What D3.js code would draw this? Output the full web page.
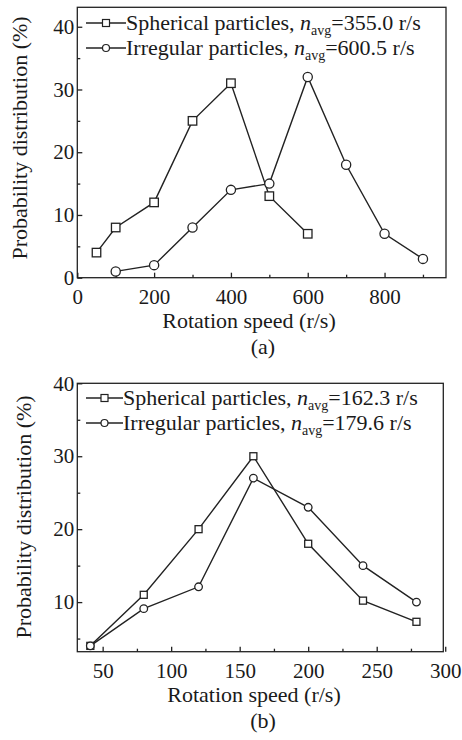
<!DOCTYPE html>
<html lang="en">
<head>
<meta charset="UTF-8">
<title>Rotation speed distribution</title>
<script src="https://d3js.org/d3.v7.min.js"></script>
<style>
    body { margin: 0; background: #fff; }
    svg text { font-family: 'Liberation Serif', 'Times New Roman', serif; fill: #1a1a1a; }
</style>
</head>
<body>
<svg id="chart" width="462" height="740"></svg>
<script>
// panel (a)
let speedA_sph = [50, 100, 200, 300, 400, 500, 600];
let probA_sph = [4, 8, 12, 25, 31, 13, 7];
let speedA_irr = [100, 200, 300, 400, 500, 600, 700, 800, 900];
let probA_irr = [1, 2, 8, 14, 15, 32, 18, 7, 3];
let xTicksA = [0, 200, 400, 600, 800];
let yTicksA = [0, 10, 20, 30, 40];
let legendA = ["Spherical particles, ", "Irregular particles, "];
let avgA = ["=355.0 r/s", "=600.5 r/s"];

// panel (b)
let speedB = [41, 80, 120, 160, 200, 240, 279];
let probB_sph = [4, 11, 20, 30, 18, 10.2, 7.3];
let probB_irr = [4, 9.1, 12.1, 27, 23, 15, 10];
let xTicksB = [50, 100, 150, 200, 250, 300];
let yTicksB = [10, 20, 30, 40];
let avgB = ["=162.3 r/s", "=179.6 r/s"];

let svg = d3.select("#chart");
svg.append("rect").attr("width", 462).attr("height", 740).attr("fill", "#fff");

let ink = "#222";

function panel(cfg) {
    let x = d3.scaleLinear().domain(cfg.xDomain).range([cfg.left, cfg.right]);
    let y = d3.scaleLinear().domain(cfg.yDomain).range([cfg.bottom, cfg.top]);
    let g = svg.append("g");

    // frame
    g.append("rect")
        .attr("x", cfg.left).attr("y", cfg.top)
        .attr("width", cfg.right - cfg.left).attr("height", cfg.bottom - cfg.top)
        .attr("fill", "none").attr("stroke", ink).attr("stroke-width", 1.3);

    // ticks point inward
    let xAxis = d3.axisBottom(x).tickValues(cfg.xTicks).tickSize(-5).tickPadding(11).tickFormat(d3.format("d"));
    let xMinor = d3.axisBottom(x).tickValues(cfg.xMinor).tickSize(-3).tickFormat("");
    let yAxis = d3.axisLeft(y).tickValues(cfg.yTicks).tickSize(-5).tickPadding(3).tickFormat(d3.format("d"));
    let yMinor = d3.axisLeft(y).tickValues(cfg.yMinor).tickSize(-3).tickFormat("");

    [[xAxis, "translate(0," + cfg.bottom + ")"], [xMinor, "translate(0," + cfg.bottom + ")"],
     [yAxis, "translate(" + cfg.left + ",0)"], [yMinor, "translate(" + cfg.left + ",0)"]].forEach(function(a) {
        let ax = g.append("g").attr("transform", a[1]).call(a[0]);
        ax.select(".domain").remove();
        ax.selectAll("line").attr("stroke", ink).attr("stroke-width", 1.3);
        ax.selectAll("text").style("font-size", "21px").attr("fill", "#1a1a1a")
            .style("font-family", "'Liberation Serif', 'Times New Roman', serif");
    });

    let line = d3.line().x(d => x(d[0])).y(d => y(d[1]));

    cfg.series.forEach(function(s) {
        let pts = d3.zip(s.xs, s.ys);
        g.append("path").datum(pts)
            .attr("d", line).attr("fill", "none").attr("stroke", ink).attr("stroke-width", 1.4);
        if (s.shape === "square") {
            g.selectAll(null).data(pts).enter().append("rect")
                .attr("x", d => x(d[0]) - cfg.sq / 2).attr("y", d => y(d[1]) - cfg.sq / 2)
                .attr("width", cfg.sq).attr("height", cfg.sq)
                .attr("fill", "#fff").attr("stroke", ink).attr("stroke-width", 1.3);
        } else {
            g.selectAll(null).data(pts).enter().append("circle")
                .attr("cx", d => x(d[0])).attr("cy", d => y(d[1])).attr("r", cfg.cr)
                .attr("fill", "#fff").attr("stroke", ink).attr("stroke-width", 1.3);
        }
    });

    // legend
    cfg.legend.forEach(function(item, i) {
        let ly = cfg.legY + i * 25;
        g.append("line").attr("x1", cfg.legX0).attr("x2", cfg.legX1).attr("y1", ly).attr("y2", ly)
            .attr("stroke", ink).attr("stroke-width", 1.3);
        let mx = (cfg.legX0 + cfg.legX1) / 2;
        if (i === 0) {
            g.append("rect").attr("x", mx - 3.5).attr("y", ly - 3.5).attr("width", 7).attr("height", 7)
                .attr("fill", "#fff").attr("stroke", ink).attr("stroke-width", 1.2);
        } else {
            g.append("circle").attr("cx", mx).attr("cy", ly).attr("r", 3.5)
                .attr("fill", "#fff").attr("stroke", ink).attr("stroke-width", 1.2);
        }
        let t = g.append("text").attr("x", cfg.legX1).attr("y", ly + 7).style("font-size", "22px");
        t.append("tspan").text(item);
        t.append("tspan").style("font-style", "italic").text("n");
        t.append("tspan").attr("dy", 5).style("font-size", "14px").text("avg");
        t.append("tspan").attr("dy", -5).text(cfg.avg[i]);
    });

    // axis titles
    g.append("text").attr("x", cfg.xTitleX).attr("y", cfg.xTitleY)
        .attr("text-anchor", "middle").style("font-size", "22px").text("Rotation speed (r/s)");
    g.append("text").attr("transform", "translate(" + cfg.yTitleX + "," + cfg.yTitleY + ") rotate(-90)")
        .attr("text-anchor", "middle").style("font-size", "22px").text("Probability distribution (%)");
    g.append("text").attr("x", cfg.capX).attr("y", cfg.capY)
        .attr("text-anchor", "middle").style("font-size", "22px").text(cfg.caption);
}

panel({
    left: 77.3, right: 446, top: 7.3, bottom: 277.7,
    xDomain: [0, 960], yDomain: [0, 43.1],
    xTicks: xTicksA, xMinor: [100, 300, 500, 700, 900],
    yTicks: yTicksA, yMinor: [5, 15, 25, 35],
    sq: 8.5, cr: 4.6,
    series: [
        {xs: speedA_sph, ys: probA_sph, shape: "square"},
        {xs: speedA_irr, ys: probA_irr, shape: "circle"}
    ],
    legend: legendA, avg: avgA, legX0: 86, legX1: 126, legY: 23,
    xTitleX: 249, xTitleY: 328, yTitleX: 27, yTitleY: 138,
    caption: "(a)", capX: 263, capY: 354
});

panel({
    left: 77.3, right: 443.3, top: 383.3, bottom: 651.7,
    xDomain: [31.5, 298.6], yDomain: [3.2, 40],
    xTicks: xTicksB, xMinor: [75, 125, 175, 225, 275],
    yTicks: yTicksB, yMinor: [5, 15, 25, 35],
    sq: 7, cr: 3.8,
    series: [
        {xs: speedB, ys: probB_sph, shape: "square"},
        {xs: speedB, ys: probB_irr, shape: "circle"}
    ],
    legend: legendA, avg: avgB, legX0: 86, legX1: 123, legY: 398,
    xTitleX: 254, xTitleY: 702, yTitleX: 31, yTitleY: 517,
    caption: "(b)", capX: 263, capY: 728
});
</script>
</body>
</html>
